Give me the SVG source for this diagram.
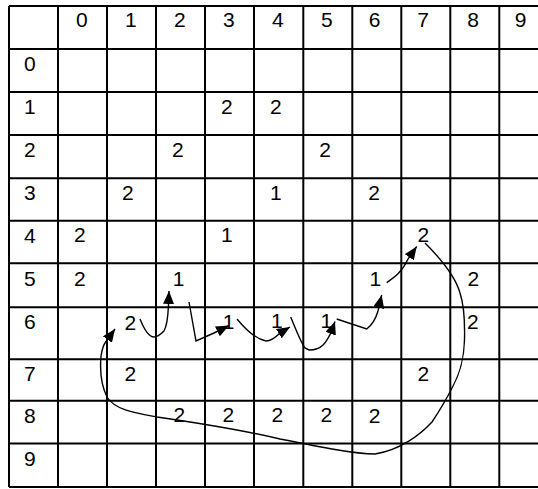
<svg xmlns="http://www.w3.org/2000/svg" width="538" height="489" viewBox="0 0 538 489">
<style>
.t{font-family:"Liberation Sans",Arial,sans-serif;font-size:21px;fill:#000}
.g{fill:none;stroke:#000;stroke-width:2}
.c{fill:none;stroke:#000;stroke-width:1.4;marker-end:url(#ah)}
</style>
<defs>
<marker id="ah" markerUnits="userSpaceOnUse" markerWidth="13" markerHeight="11" refX="13" refY="5.5" orient="auto">
<path d="M0,0 L13,5.5 L0,11 z" fill="#000"/>
</marker>
</defs>
<rect width="538" height="489" fill="#fff"/>
<g id="grid" class="g">
<path d="M9,6H538M9,49H538M9,92H538M9,135H538M9,178.3H538M9,220.7H538M9,263.3H538M9,307.2H538M9,359.3H538M9,400.8H538M9,443.5H538M9,487H538"/>
<path d="M9,6V487M58,6V487M107,6V487M156,6V487M205,6V487M254,6V487M303.3,6V487M352.3,6V487M401.3,6V487M450.3,6V487M499.3,6V487"/>
</g>
<g id="col-headers" class="t">
<text x="76" y="27">0</text><text x="125" y="27">1</text><text x="174" y="27">2</text><text x="223" y="27">3</text><text x="272" y="27">4</text><text x="321" y="27">5</text><text x="368.8" y="27">6</text><text x="417.3" y="27">7</text><text x="467.3" y="27">8</text><text x="514.8" y="27">9</text>
</g>
<g id="row-headers" class="t">
<text x="24" y="71">0</text><text x="24" y="114">1</text><text x="24" y="157">2</text><text x="24" y="200.3">3</text><text x="24" y="242.5">4</text><text x="24" y="285.5">5</text><text x="24" y="329.2">6</text><text x="24" y="381">7</text><text x="24" y="422.7">8</text><text x="24" y="465.5">9</text>
</g>
<g id="r1" class="t"><text x="221" y="114">2</text><text x="270" y="114">2</text></g>
<g id="r2" class="t"><text x="172" y="157">2</text><text x="319.3" y="157">2</text></g>
<g id="r3" class="t"><text x="122" y="200.3">2</text><text x="270" y="200.3">1</text><text x="368.3" y="200.3">2</text></g>
<g id="r4" class="t"><text x="74" y="242.3">2</text><text x="221" y="242.3">1</text><text x="417.6" y="241.8">2</text></g>
<g id="r5" class="t"><text x="74" y="285.8">2</text><text x="172.8" y="286">1</text><text x="369.5" y="286">1</text><text x="467.6" y="285.8">2</text></g>
<g id="r6" class="t"><text x="124.4" y="330">2</text><text x="222.8" y="329">1</text><text x="271.1" y="328.4">1</text><text x="320.5" y="328.4">1</text><text x="467" y="329">2</text></g>
<g id="r7" class="t"><text x="124.4" y="380.7">2</text><text x="417.6" y="380.7">2</text></g>
<g id="r8" class="t"><text x="173.6" y="422.4">2</text><text x="222.6" y="422.4">2</text><text x="271.6" y="422.4">2</text><text x="320.6" y="422.4">2</text><text x="368.7" y="422.6">2</text></g>
<g id="connectors">
<path class="c" d="M140,319 C144,329 149,337 154,337 C158,337 162,333 164,331 C167,326 168,316 168.5,305 L169,291"/>
<path class="c" d="M189,302 L196,341 L214,333 L229,325.5"/>
<path class="c" d="M237,319 C246,330 256,339 266,341 C272,341 277,336 280,333 L290,327"/>
<path class="c" d="M290.7,317 C296,330 301,343 305,348 L309,350 C315,350 320,348 323,345 C327,341 330,335 332,330 L335,321.5"/>
<path class="c" d="M336.7,319 L366.7,329 C372,325 376,318 378,311 L381.7,295"/>
<path class="c" d="M386.7,282.7 C395,277 402,272 408,259 L416.7,246.5"/>
<path class="c" d="M425,243 C440,258 455,275 460,293 C464,305 465,320 464.5,340 C464,355 462,370 452,388 C446,400 440,410 432,422 C420,435 400,450 375,454 C355,454 320,447 280,439 C255,433 205,424 157,417 C135,413 115,410 107,397 C101,385 100,368 101,356 C102,350 103,346 105,343 L115,329"/>
</g>
</svg>
